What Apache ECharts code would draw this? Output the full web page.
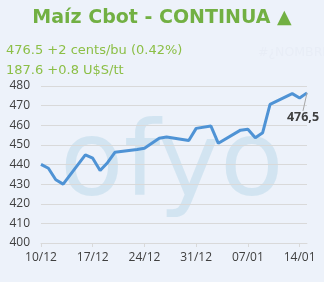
<!DOCTYPE html>
<html><head><meta charset="utf-8">
<script src="https://cdn.jsdelivr.net/npm/echarts@6/dist/echarts.min.js"></script>
<style>html,body{margin:0;padding:0;background:#EDF2FA}#c{width:324px;height:282px}</style>
</head><body><div id="c"></div>
<script>
var dates = ['10/12/2024','11/12/2024','12/12/2024','13/12/2024','16/12/2024','17/12/2024','18/12/2024','19/12/2024','20/12/2024','23/12/2024','24/12/2024','26/12/2024','27/12/2024','30/12/2024','31/12/2024','02/01/2025','03/01/2025','06/01/2025','07/01/2025','08/01/2025','09/01/2025','10/01/2025','13/01/2025','14/01/2025','15/01/2025'];
var prices = [440.1,438.1,432.2,430.0,444.9,443.2,436.9,440.9,446.2,447.6,448.3,453.4,454.0,452.2,458.4,459.6,450.8,457.5,458.0,453.6,456.2,470.6,476.1,473.9,476.5];
var yTicks = [400,410,420,430,440,450,460,470,480];
var xTickLabels = ['10/12','17/12','24/12','31/12','07/01','14/01'];
var titleText = 'Maíz Cbot - CONTINUA ▲';
var line1 = '476.5 +2 cents/bu (0.42%)';
var line2 = '187.6 +0.8 U$S/tt';
var lastLabel = '476,5';

function toUTC(s){var p=s.split('/');return Date.UTC(+p[2],+p[1]-1,+p[0]);}
var start = toUTC(dates[0]);
var DAY = 86400000;
var seriesData = dates.map(function(d,i){return [(toUTC(d)-start)/DAY, prices[i]];});
var last = seriesData.length-1;
seriesData[last] = {value: seriesData[last], label:{show:true, position:'bottom', distance:2, formatter:lastLabel, fontWeight:'bold', fontSize:12.5, color:'#404040', fontFamily:'Open Sans'}, labelLine:{show:true, lineStyle:{color:'#A6A6A6', width:1}}};

var chart = echarts.init(document.getElementById('c'), null, {renderer:'canvas'});
chart.setOption({
  backgroundColor:'#EDF2FA',
  animation:false,
  title:[
    {text:titleText, left:'center', top:4, textStyle:{color:'#72B043', fontSize:19, fontWeight:'bold', fontFamily:'DejaVu Sans'}},
    {text:'#¿NOMBRE?', left:253, top:41, textStyle:{color:'#E8EDF6', fontSize:12.5, fontWeight:'normal', fontFamily:'DejaVu Sans'}},
    {text:line1, left:1, top:39, textStyle:{color:'#8CBF46', fontSize:13, fontWeight:'normal', fontFamily:'DejaVu Sans'}},
    {text:line2, left:1, top:59, textStyle:{color:'#8CBF46', fontSize:13, fontWeight:'normal', fontFamily:'DejaVu Sans'}}
  ],
  graphic:[{type:'text', left:60, top:116, z:-1, silent:true, style:{text:'ofyo', font:'104px "DejaVu Sans"', fill:'rgba(175,210,228,0.42)'}}],
  grid:{left:41, right:17, top:86, bottom:39},
  xAxis:{type:'value', min:0, max:36, interval:7,
    axisLine:{show:true, lineStyle:{color:'#D9D9D9'}},
    axisTick:{show:true, length:4, lineStyle:{color:'#D9D9D9'}},
    splitLine:{show:false},
    axisLabel:{color:'#404040', fontSize:12, fontFamily:'Open Sans', margin:9, formatter:function(v){return xTickLabels[Math.round(v/7)]||'';}}},
  yAxis:{type:'value', min:yTicks[0], max:yTicks[yTicks.length-1], interval:10,
    axisLine:{show:false}, axisTick:{show:false},
    splitLine:{lineStyle:{color:'#D9D9D9'}},
    axisLabel:{color:'#404040', fontSize:12, fontFamily:'Open Sans', margin:11}},
  series:[{type:'line', data:seriesData, showSymbol:true, symbol:'circle', symbolSize:0.01, smooth:false,
    itemStyle:{color:'#4F93D5'},
    lineStyle:{color:'#4F93D5', width:3},
    labelLayout:function(p){ if(p.dataIndex===last){return {dx:-4, dy:16};} return {}; }
  }]
});
</script></body></html>
